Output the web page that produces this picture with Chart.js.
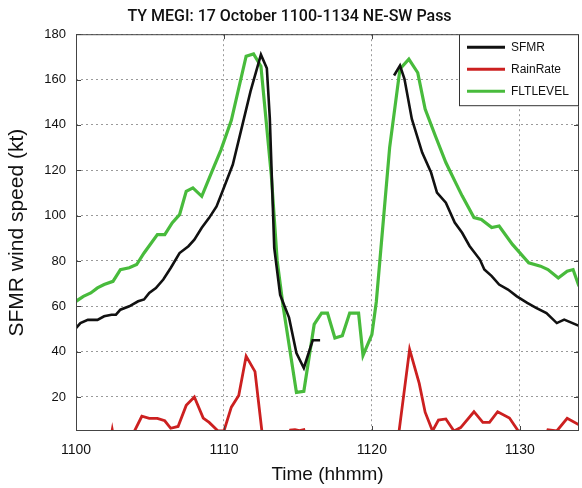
<!DOCTYPE html>
<html lang="en">
<head>
<meta charset="UTF-8">
<title>TY MEGI SFMR pass</title>
<script src="https://cdn.jsdelivr.net/npm/chart.js"></script>
<style>
  html, body { margin: 0; padding: 0; background: #fff; }
  canvas { display: block; }
</style>
</head>
<body>
<canvas id="chart" width="582" height="488"></canvas>
<script>
  // values (time in hhmm, speed in kt)
  const sfmrTime = [1100, 1100.3, 1100.8, 1101.45, 1101.9, 1102.4, 1102.7, 1103.0, 1103.6, 1104.2, 1104.6, 1104.95,
    1105.4, 1105.9, 1106.4, 1107.0, 1107.6, 1108.0, 1108.5, 1109.0, 1109.5, 1109.95, 1110.6, 1111.2, 1111.8, 1112.5,
    1112.9, 1113.1, 1113.4, 1113.8, 1114.4, 1114.9, 1115.4, 1116.0, 1116.5, 1119, 1121.5, 1121.9, 1122.2, 1122.7,
    1123.4, 1124.0, 1124.4, 1125.0, 1125.6, 1126.1, 1126.6, 1127.3, 1127.6, 1128.1, 1128.6, 1129.2, 1129.8, 1130.5,
    1131.1, 1131.8, 1132.5, 1133.0, 1134.0];
  const sfmrKt = [50.4, 52.6, 54, 54, 55.6, 56.3, 56.3, 58.5, 60, 62.2, 63, 65.9,
    68, 71.8, 76.9, 83.5, 86.5, 89.4, 94.6, 99, 104, 111.5, 122.5, 138.7, 154.9, 171,
    165, 143, 85.7, 65, 55, 39.4, 32.8, 45, 45, null, 161.8, 166.2, 160.3, 142.6,
    127.8, 119, 110.1, 105.7, 96.9, 92.4, 86.6, 80.6, 76.2, 73.3, 69.6, 67.4, 64.4, 61.5,
    59.3, 57.0, 52.6, 54.1, 51.4];

  const rainTime = [1100, 1102.3, 1102.45, 1102.6, 1103.8, 1104.45, 1104.95, 1105.5, 1106.0, 1106.4, 1106.9, 1107.45,
    1108.0, 1108.6, 1109.0, 1109.6, 1110.0, 1110.5, 1111.0, 1111.5, 1112.1, 1112.6, 1112.8, 1114.3, 1114.5, 1114.8,
    1115.1, 1115.4, 1115.6, 1121.6, 1121.8, 1122.55, 1123.2, 1123.6, 1124.1, 1124.5, 1125.0, 1125.55, 1126.0, 1126.9,
    1127.5, 1127.95, 1128.5, 1129.3, 1130.0, 1130.2, 1131.6, 1131.9, 1132.5, 1133.2, 1134.0];
  const rainRate = [0, 0, 5.5, 0, 3, 11.5, 10.6, 10.6, 9.5, 6.2, 7, 16.3,
    20, 10.7, 8.8, 5, 5, 15.5, 20.7, 38, 31.2, 3, 0, 0, 5.4, 5.6,
    5.2, 5.6, 0, 0, 3, 41, 26, 13.3, 5, 9.8, 10.3, 5, 6.5, 13.5,
    8.8, 8.8, 13.5, 10.7, 4, 0, 0, 5.5, 5, 10.6, 7.7];

  const fltTime = [1100, 1100.5, 1101, 1101.45, 1101.9, 1102.5, 1103.0, 1103.6, 1104.1, 1104.6, 1105.5, 1106.0,
    1106.5, 1107.0, 1107.45, 1107.9, 1108.5, 1109.2, 1109.8, 1110.5, 1111.5, 1112.0, 1112.5, 1113.2, 1113.6, 1114.0,
    1114.9, 1115.4, 1116.1, 1116.6, 1117.0, 1117.5, 1118.0, 1118.5, 1119.1, 1119.4, 1120.0, 1120.3, 1121.2, 1121.9,
    1122.5, 1123.1, 1123.6, 1124.3, 1125.0, 1125.6, 1126.1, 1126.9, 1127.4, 1128.1, 1128.6, 1129.5, 1130.6, 1131.4,
    1131.9, 1132.6, 1133.2, 1133.6, 1134.0];
  const fltKt = [62.2, 64.4, 65.9, 68.1, 69.6, 71, 76.2, 77, 78.4, 83.5, 91.6, 91.6,
    96.8, 100.4, 110.7, 112.2, 108.5, 119.6, 129, 142, 170.3, 171.3, 165.9, 118, 80, 60,
    22, 22.5, 52, 57, 57, 46, 47, 57, 57, 38.3, 47.5, 62, 130, 164.7,
    169, 163, 147, 135, 123.4, 115.3, 108.7, 99.1, 98.3, 94.7, 95.4, 87.3, 79.2, 77.7,
    76.2, 72.5, 75.5, 76.2, 68.8];

  const xTicks = [1100, 1110, 1120, 1130];
  const yTicks = [20, 40, 60, 80, 100, 120, 140, 160, 180];

  const zip = (xs, ys) => xs.map((x, i) => ({ x: x, y: ys[i] }));
  const family = '"Liberation Sans", Arial, sans-serif';

  // MATLAB-style box, inner tick marks and a legend inside the top right corner
  const framePlugin = {
    id: 'frame',
    afterDatasetsDraw(chart) {
      const { ctx, chartArea: a, scales: { x, y } } = chart;
      ctx.save();
      ctx.strokeStyle = '#444';
      ctx.lineWidth = 1;
      ctx.strokeRect(a.left + 0.5, a.top + 0.5, a.width - 1, a.height - 1);
      ctx.beginPath();
      yTicks.forEach(v => {
        const py = Math.round(y.getPixelForValue(v)) + 0.5;
        ctx.moveTo(a.left, py); ctx.lineTo(a.left + 5, py);
        ctx.moveTo(a.right, py); ctx.lineTo(a.right - 5, py);
      });
      xTicks.forEach(v => {
        const px = Math.round(x.getPixelForValue(v)) + 0.5;
        ctx.moveTo(px, a.bottom); ctx.lineTo(px, a.bottom - 5);
        ctx.moveTo(px, a.top); ctx.lineTo(px, a.top + 5);
      });
      ctx.stroke();

      // legend
      const bw = 120, bh = 72;
      const bx = a.right - bw, by = a.top;
      ctx.fillStyle = '#fff';
      ctx.fillRect(bx, by, bw, bh);
      ctx.strokeStyle = '#333';
      ctx.strokeRect(bx + 0.5, by + 0.5, bw - 1, bh - 1);
      ctx.font = '12px ' + family;
      ctx.textBaseline = 'middle';
      chart.data.datasets.forEach((ds, i) => {
        const ly = by + 13 + i * 22;
        ctx.strokeStyle = ds.borderColor;
        ctx.lineWidth = 3;
        ctx.beginPath();
        ctx.moveTo(bx + 8, ly); ctx.lineTo(bx + 46, ly);
        ctx.stroke();
        ctx.fillStyle = '#111';
        ctx.fillText(ds.label, bx + 52, ly);
      });
      ctx.restore();
    }
  };

  const gridOpts = { color: '#9a9a9a', lineWidth: 1, drawTicks: false };

  new Chart(document.getElementById('chart'), {
    type: 'line',
    data: {
      datasets: [
        { label: 'SFMR', data: zip(sfmrTime, sfmrKt), borderColor: '#111111', borderWidth: 2.6, order: 0 },
        { label: 'RainRate', data: zip(rainTime, rainRate), borderColor: '#cc2020', borderWidth: 2.8, order: 1 },
        { label: 'FLTLEVEL', data: zip(fltTime, fltKt), borderColor: '#48bb3c', borderWidth: 3.2, order: 2 }
      ]
    },
    options: {
      responsive: false,
      animation: false,
      spanGaps: false,
      elements: { point: { radius: 0 }, line: { tension: 0 } },
      layout: { padding: { left: 0, right: 3, top: 0, bottom: 0 } },
      plugins: {
        legend: { display: false },
        tooltip: { enabled: false },
        title: {
          display: true,
          text: 'TY MEGI: 17 October 1100-1134 NE-SW Pass',
          color: '#111',
          font: { family: 'Roboto, ' + family, size: 16, weight: '500' },
          padding: { top: 7, bottom: 8 }
        }
      },
      scales: {
        x: {
          type: 'linear',
          min: 1100,
          max: 1134,
          afterBuildTicks: s => { s.ticks = xTicks.map(v => ({ value: v })); },
          afterFit: s => { s.height = 57; },
          grid: gridOpts,
          border: { display: false, dash: [2, 3] },
          ticks: { padding: 11, color: '#111', font: { family: family, size: 14 }, callback: v => String(v) },
          title: { display: true, text: 'Time (hhmm)', color: '#111', font: { family: family, size: 19 }, padding: { top: 0, bottom: 2 } }
        },
        y: {
          min: 5,
          max: 180,
          afterBuildTicks: s => { s.ticks = yTicks.map(v => ({ value: v })); },
          afterFit: s => { s.width = 76; },
          grid: gridOpts,
          border: { display: false, dash: [2, 3] },
          ticks: { padding: 10, color: '#111', font: { family: family, size: 13 }, callback: v => String(v) },
          title: { display: true, text: 'SFMR wind speed (kt)', color: '#111', font: { family: family, size: 21 }, padding: { top: 5, bottom: 0 } }
        }
      }
    },
    plugins: [framePlugin]
  });
</script>
</body>
</html>
